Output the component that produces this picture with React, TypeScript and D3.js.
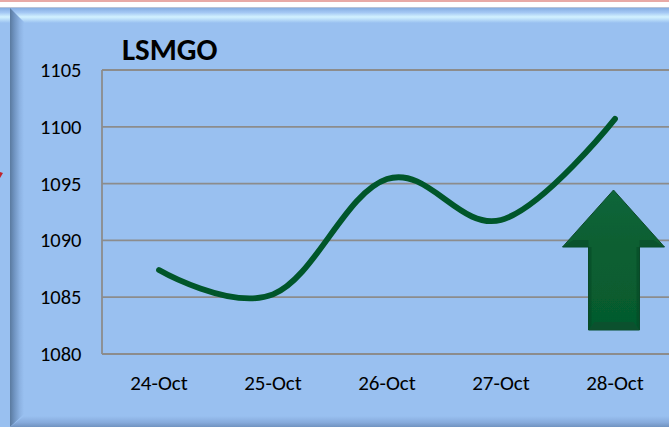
import React, { useEffect, useRef } from "react";
import * as d3 from "d3";

const title = "LSMGO";
const dates = ["24-Oct", "25-Oct", "26-Oct", "27-Oct", "28-Oct"];
const prices = [1087.4, 1085.25, 1095.4, 1091.8, 1100.7];
const yTicks = [1080, 1085, 1090, 1095, 1100, 1105];

const W = 669;
const H = 427;
const FONT = "Carlito, Calibri, Lato, 'Open Sans', sans-serif";

export default function App() {
  const svgRef = useRef<SVGSVGElement>(null);

  useEffect(() => {
    if (!svgRef.current) return;
    const svg = d3.select(svgRef.current);
    svg.selectAll("*").remove();

    const plot = { left: 102, right: 672, top: 70, bottom: 354 };

    const x = d3.scalePoint<string>().domain(dates)
      .range([plot.left, plot.right]).padding(0.5);
    const y = d3.scaleLinear().domain([1080, 1105]).range([plot.bottom, plot.top]);

    // Gradients for the bevelled panel behind the chart
    const defs = svg.append("defs");
    const grad = (id: string, dir: number[], stops: [number, string][]) => {
      const g = defs.append("linearGradient").attr("id", id)
        .attr("x1", dir[0]).attr("y1", dir[1]).attr("x2", dir[2]).attr("y2", dir[3]);
      stops.forEach(([o, c]) => g.append("stop").attr("offset", o).attr("stop-color", c));
    };
    grad("bevelTop", [0, 0, 0, 1], [[0, "#7fa8de"], [0.35, "#a4c8f4"], [0.62, "#d2f2ff"], [1, "#99c0f0"]]);
    grad("bevelLeft", [0, 0, 1, 0], [[0, "#5a7a9f"], [0.3, "#6f93c0"], [0.7, "#8cb2e2"], [1, "#99c0f0"]]);
    grad("bevelBottom", [0, 0, 0, 1], [[0, "#99c0f0"], [0.6, "#86aadb"], [1, "#7093c0"]]);
    grad("arrowFill", [0, 0, 0, 1], [[0, "#10663a"], [0.4, "#0a5f32"], [1, "#055a2d"]]);

    const blur = defs.append("filter").attr("id", "soft")
      .attr("x", "-10%").attr("y", "-10%").attr("width", "120%").attr("height", "120%");
    blur.append("feGaussianBlur").attr("stdDeviation", 0.6);

    // Page strip and panel
    svg.append("rect").attr("width", W).attr("height", H).attr("fill", "#ffffff");
    svg.append("rect").attr("width", W).attr("height", 2).attr("fill", "#e8aaa6");
    svg.append("rect").attr("y", 7).attr("width", W).attr("height", H - 7).attr("fill", "#99c0f0");
    svg.append("rect").attr("y", 7).attr("width", W).attr("height", 16).attr("fill", "url(#bevelTop)");
    svg.append("rect").attr("y", 7).attr("width", W).attr("height", 1).attr("fill", "#b9c4d6");
    svg.append("path").attr("d", `M10,8 L24,22 L24,414 L10,${H} Z`).attr("fill", "url(#bevelLeft)");
    svg.append("path").attr("d", `M10,${H} L24,416 L${W},416 L${W},${H} Z`).attr("fill", "url(#bevelBottom)");
    svg.append("path").attr("d", "M0,172 L3,173 L0,178 Z").attr("fill", "#c0242c");

    // Horizontal gridlines
    svg.append("g").selectAll("line").data(yTicks).join("line")
      .attr("x1", plot.left).attr("x2", plot.right)
      .attr("y1", d => y(d)).attr("y2", d => y(d))
      .attr("stroke", "#8c8c8c").attr("stroke-width", 1.8);
    svg.append("line")
      .attr("x1", plot.left).attr("x2", plot.left)
      .attr("y1", plot.top).attr("y2", plot.bottom)
      .attr("stroke", "#8c8c8c").attr("stroke-width", 1.8);

    // Tick labels
    svg.append("g").selectAll("text").data(yTicks).join("text")
      .attr("x", 81.5).attr("y", d => y(d) + 7)
      .attr("text-anchor", "end")
      .style("font-family", FONT).style("font-size", "20.5px")
      .attr("fill", "#000000").text(d => d);
    svg.append("g").selectAll("text").data(dates).join("text")
      .attr("x", d => x(d)!).attr("y", 390)
      .attr("text-anchor", "middle")
      .style("font-family", FONT).style("font-size", "21px")
      .attr("fill", "#000000").text(d => d);

    // Title
    svg.append("text").attr("x", 122).attr("y", 60)
      .style("font-family", FONT).style("font-size", "31px").style("font-weight", "700")
      .attr("fill", "#000000").text(title);

    // Smoothed price line
    const line = d3.line<number>()
      .x((_, i) => x(dates[i])!)
      .y(d => y(d))
      .curve(d3.curveCardinal.tension(-0.1));
    svg.append("path").datum(prices)
      .attr("fill", "none").attr("stroke", "#00562a")
      .attr("stroke-width", 5.8).attr("stroke-linecap", "round")
      .attr("d", line);

    // Up arrow callout
    const arrow = svg.append("g").attr("transform", "translate(613.5,190)");
    arrow.append("path")
      .attr("d", "M0,0 L51,57 L26,57 L26,140 L-25,140 L-25,57 L-51,57 Z")
      .attr("fill", "url(#arrowFill)").attr("stroke", "#0a4a2a").attr("stroke-width", 1)
      .attr("filter", "url(#soft)");
    arrow.append("path")
      .attr("d", "M-51,57 L-25,57 L-25,50 L-40,50 Z").attr("fill", "#0a4f2b").attr("opacity", 0.7);
    arrow.append("path")
      .attr("d", "M51,57 L26,57 L26,50 L40,50 Z").attr("fill", "#0a4f2b").attr("opacity", 0.7);
    arrow.append("path")
      .attr("d", "M-25,140 L26,140 L20,132 L-19,132 Z").attr("fill", "#0e4f2e").attr("opacity", 0.8);
    arrow.append("path")
      .attr("d", "M-25,57 L-22,57 L-22,135 L-25,140 Z").attr("fill", "#054a27").attr("opacity", 0.6);
    arrow.append("path")
      .attr("d", "M26,57 L23,57 L23,135 L26,140 Z").attr("fill", "#054a27").attr("opacity", 0.6);
  }, []);

  return (
    <svg
      ref={svgRef}
      width={W}
      height={H}
      style={{ position: "fixed", left: 0, top: 0, display: "block" }}
    />
  );
}
